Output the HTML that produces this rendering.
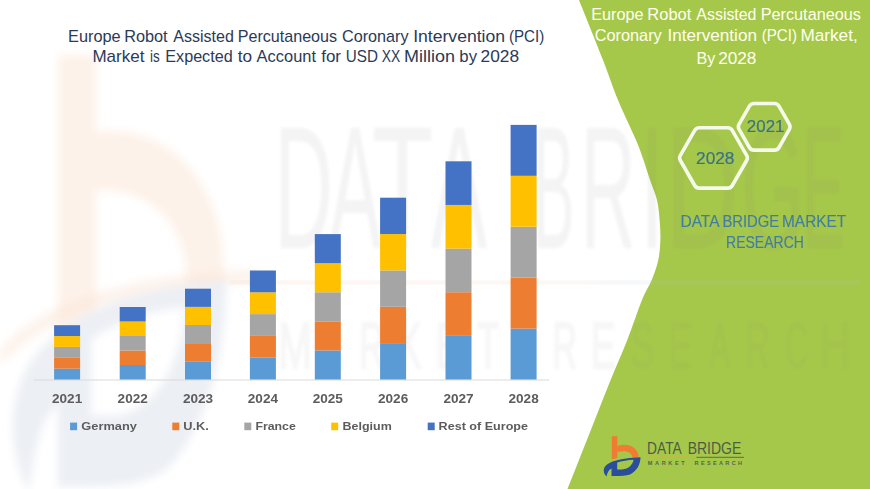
<!DOCTYPE html>
<html><head><meta charset="utf-8"><style>
html,body{margin:0;padding:0;background:#fff;}
body{width:870px;height:489px;overflow:hidden;position:relative;font-family:"Liberation Sans",sans-serif;}
svg{position:absolute;left:0;top:0;}
</style></head><body>
<svg width="870" height="489" viewBox="0 0 870 489" font-family="Liberation Sans, sans-serif">
<rect width="870" height="489" fill="#fff"/>
<path d="M579,0 C583.00,10.00 596.50,43.33 603,60 C609.50,76.67 612.50,86.67 618,100 C623.50,113.33 631.75,130.00 636,140 C640.25,150.00 641.17,153.33 643.5,160 C645.83,166.67 647.75,173.33 650,180 C652.25,186.67 655.40,193.33 657,200 C658.60,206.67 659.03,213.33 659.6,220 C660.17,226.67 660.62,233.33 660.4,240 C660.18,246.67 659.75,253.33 658.3,260 C656.85,266.67 654.42,273.33 651.7,280 C648.98,286.67 646.07,290.00 642,300 C637.93,310.00 632.53,326.67 627.3,340 C622.07,353.33 616.02,366.67 610.6,380 C605.18,393.33 600.07,406.67 594.8,420 C589.53,433.33 583.55,448.50 579,460 C574.45,471.50 569.42,484.17 567.5,489 L870,489 L870,0 Z" fill="#A6C84A"/>
<defs><filter id="bl" x="-10%" y="-10%" width="120%" height="120%"><feGaussianBlur stdDeviation="1.5"/></filter>
<filter id="bl2" x="-10%" y="-10%" width="120%" height="120%"><feGaussianBlur stdDeviation="4"/></filter></defs>
<g filter="url(#bl2)">
<path d="M58,55 L96,55 L96,132 C170,122 224,185 224,268 L222,300 L186,300 L186,275 C186,225 150,188 96,190 L96,320 L58,335 Z" fill="#FCE9DA" opacity="0.6"/>
<path d="M0,350 C40,300 140,272 260,270 L262,282 C150,285 60,305 0,365 Z" fill="#FBE3D3" opacity="0.45"/>
<g transform="translate(-3488.7,-4749.2) scale(5.8,11)"><path fill-rule="evenodd" fill="#ECEFF4" d="M606.5,476.5 C603,473 602.5,468 607,464.5 C613,460 625,458 640.5,457.2 C640.5,464 637,471 630,474.5 C625,476.2 618,476 611.5,476 L611.5,468.5 C609,469.5 607.5,472 606.5,476.5 Z M617.2,462.6 C622,460.9 628,459.9 633.6,459.7 C632.6,464.5 629,468.8 622,469.5 L617.2,469.5 Z"/></g>

</g>
<g filter="url(#bl)" fill="#7a7a7a" opacity="0.085" font-size="174">
<text transform="translate(274.34,0) scale(0.4668,1)" x="0" y="248">D</text>
<text transform="translate(328.84,0) scale(0.4514,1)" x="0" y="248">A</text>
<text transform="translate(371.78,0) scale(0.5798,1)" x="0" y="248">T</text>
<text transform="translate(430.83,0) scale(0.4862,1)" x="0" y="248">A</text>
<text transform="translate(532.90,0) scale(0.3572,1)" x="0" y="248">B</text>
<text transform="translate(580.77,0) scale(0.4369,1)" x="0" y="248">R</text>
<text transform="translate(640.09,0) scale(0.4944,1)" x="0" y="248">I</text>
<text transform="translate(665.68,0) scale(0.5835,1)" x="0" y="248">D</text>
<text transform="translate(740.94,0) scale(0.4672,1)" x="0" y="248">G</text>
<text transform="translate(801.70,0) scale(0.3718,1)" x="0" y="248">E</text>
</g>
<g filter="url(#bl)" fill="#7a7a7a" opacity="0.06" font-size="64.5" stroke="#7a7a7a" stroke-width="2.5">
<text transform="translate(278.19,0) scale(0.6267,1)" x="0" y="368">M</text>
<text transform="translate(323.54,0) scale(0.4684,1)" x="0" y="368">A</text>
<text transform="translate(359.43,0) scale(0.5238,1)" x="0" y="368">R</text>
<text transform="translate(397.93,0) scale(0.5421,1)" x="0" y="368">K</text>
<text transform="translate(436.37,0) scale(0.5732,1)" x="0" y="368">E</text>
<text transform="translate(477.22,0) scale(0.5488,1)" x="0" y="368">T</text>
<text transform="translate(552.43,0) scale(0.5238,1)" x="0" y="368">R</text>
<text transform="translate(590.77,0) scale(0.5732,1)" x="0" y="368">E</text>
<text transform="translate(630.80,0) scale(0.5402,1)" x="0" y="368">S</text>
<text transform="translate(667.97,0) scale(0.5732,1)" x="0" y="368">E</text>
<text transform="translate(709.54,0) scale(0.4684,1)" x="0" y="368">A</text>
<text transform="translate(745.43,0) scale(0.5238,1)" x="0" y="368">R</text>
<text transform="translate(785.19,0) scale(0.4906,1)" x="0" y="368">C</text>
<text transform="translate(819.87,0) scale(0.6668,1)" x="0" y="368">H</text>
</g>
<linearGradient id="lg1" x1="0" x2="1" y1="0" y2="0"><stop offset="0" stop-color="#F2B894"/><stop offset="0.55" stop-color="#F0C8B0"/><stop offset="0.62" stop-color="#B8C4D8"/><stop offset="1" stop-color="#B8C4D8"/></linearGradient>
<rect x="230" y="280.5" width="630" height="4" fill="url(#lg1)" opacity="0.16" filter="url(#bl)"/>

<line x1="34" y1="380" x2="549" y2="380" stroke="#D9D9D9" stroke-width="1"/>
<rect x="54.1" y="368.64" width="26" height="10.86" fill="#5B9BD5"/>
<rect x="54.1" y="357.78" width="26" height="10.86" fill="#ED7D31"/>
<rect x="54.1" y="346.92" width="26" height="10.86" fill="#A5A5A5"/>
<rect x="54.1" y="336.06" width="26" height="10.86" fill="#FFC000"/>
<rect x="54.1" y="325.20" width="26" height="10.86" fill="#4472C4"/>
<rect x="119.7" y="365.00" width="26" height="14.50" fill="#5B9BD5"/>
<rect x="119.7" y="350.50" width="26" height="14.50" fill="#ED7D31"/>
<rect x="119.7" y="336.00" width="26" height="14.50" fill="#A5A5A5"/>
<rect x="119.7" y="321.50" width="26" height="14.50" fill="#FFC000"/>
<rect x="119.7" y="307.00" width="26" height="14.50" fill="#4472C4"/>
<rect x="185.0" y="361.34" width="26" height="18.16" fill="#5B9BD5"/>
<rect x="185.0" y="343.18" width="26" height="18.16" fill="#ED7D31"/>
<rect x="185.0" y="325.02" width="26" height="18.16" fill="#A5A5A5"/>
<rect x="185.0" y="306.86" width="26" height="18.16" fill="#FFC000"/>
<rect x="185.0" y="288.70" width="26" height="18.16" fill="#4472C4"/>
<rect x="249.9" y="357.70" width="26" height="21.80" fill="#5B9BD5"/>
<rect x="249.9" y="335.90" width="26" height="21.80" fill="#ED7D31"/>
<rect x="249.9" y="314.10" width="26" height="21.80" fill="#A5A5A5"/>
<rect x="249.9" y="292.30" width="26" height="21.80" fill="#FFC000"/>
<rect x="249.9" y="270.50" width="26" height="21.80" fill="#4472C4"/>
<rect x="314.8" y="350.42" width="26" height="29.08" fill="#5B9BD5"/>
<rect x="314.8" y="321.34" width="26" height="29.08" fill="#ED7D31"/>
<rect x="314.8" y="292.26" width="26" height="29.08" fill="#A5A5A5"/>
<rect x="314.8" y="263.18" width="26" height="29.08" fill="#FFC000"/>
<rect x="314.8" y="234.10" width="26" height="29.08" fill="#4472C4"/>
<rect x="380.1" y="343.14" width="26" height="36.36" fill="#5B9BD5"/>
<rect x="380.1" y="306.78" width="26" height="36.36" fill="#ED7D31"/>
<rect x="380.1" y="270.42" width="26" height="36.36" fill="#A5A5A5"/>
<rect x="380.1" y="234.06" width="26" height="36.36" fill="#FFC000"/>
<rect x="380.1" y="197.70" width="26" height="36.36" fill="#4472C4"/>
<rect x="445.5" y="335.86" width="26" height="43.64" fill="#5B9BD5"/>
<rect x="445.5" y="292.22" width="26" height="43.64" fill="#ED7D31"/>
<rect x="445.5" y="248.58" width="26" height="43.64" fill="#A5A5A5"/>
<rect x="445.5" y="204.94" width="26" height="43.64" fill="#FFC000"/>
<rect x="445.5" y="161.30" width="26" height="43.64" fill="#4472C4"/>
<rect x="510.6" y="328.58" width="26" height="50.92" fill="#5B9BD5"/>
<rect x="510.6" y="277.66" width="26" height="50.92" fill="#ED7D31"/>
<rect x="510.6" y="226.74" width="26" height="50.92" fill="#A5A5A5"/>
<rect x="510.6" y="175.82" width="26" height="50.92" fill="#FFC000"/>
<rect x="510.6" y="124.90" width="26" height="50.92" fill="#4472C4"/>
<g font-weight="bold" font-size="13.6" fill="#5C5C5C">
<text x="67.1" y="403.4" text-anchor="middle" textLength="30.2" lengthAdjust="spacingAndGlyphs">2021</text>
<text x="132.7" y="403.4" text-anchor="middle" textLength="30.2" lengthAdjust="spacingAndGlyphs">2022</text>
<text x="198.0" y="403.4" text-anchor="middle" textLength="30.2" lengthAdjust="spacingAndGlyphs">2023</text>
<text x="262.9" y="403.4" text-anchor="middle" textLength="30.2" lengthAdjust="spacingAndGlyphs">2024</text>
<text x="327.8" y="403.4" text-anchor="middle" textLength="30.2" lengthAdjust="spacingAndGlyphs">2025</text>
<text x="393.1" y="403.4" text-anchor="middle" textLength="30.2" lengthAdjust="spacingAndGlyphs">2026</text>
<text x="458.5" y="403.4" text-anchor="middle" textLength="30.2" lengthAdjust="spacingAndGlyphs">2027</text>
<text x="523.6" y="403.4" text-anchor="middle" textLength="30.2" lengthAdjust="spacingAndGlyphs">2028</text>
</g>
<g font-weight="bold" font-size="11.8" fill="#5C5C5C">
<rect x="70.1" y="422.6" width="7" height="7.6" fill="#5B9BD5"/>
<text x="81.3" y="430" textLength="55.6" lengthAdjust="spacingAndGlyphs">Germany</text>
<rect x="172.3" y="422.6" width="7" height="7.6" fill="#ED7D31"/>
<text x="183.2" y="430" textLength="25.6" lengthAdjust="spacingAndGlyphs">U.K.</text>
<rect x="244.3" y="422.6" width="7" height="7.6" fill="#A5A5A5"/>
<text x="255.4" y="430" textLength="40.4" lengthAdjust="spacingAndGlyphs">France</text>
<rect x="331.2" y="422.6" width="7" height="7.6" fill="#FFC000"/>
<text x="342.6" y="430" textLength="49.2" lengthAdjust="spacingAndGlyphs">Belgium</text>
<rect x="427.7" y="422.6" width="7" height="7.6" fill="#4472C4"/>
<text x="438.6" y="430" textLength="89.4" lengthAdjust="spacingAndGlyphs">Rest of Europe</text>
</g>
<g font-size="16" fill="#2B3A57">
<text transform="translate(68.06,0) scale(1.0208,1)" x="0" y="41.6">Europe</text>
<text transform="translate(124.16,0) scale(1.0199,1)" x="0" y="41.6">Robot</text>
<text transform="translate(173.27,0) scale(1.0015,1)" x="0" y="41.6">Assisted</text>
<text transform="translate(237.68,0) scale(1.0078,1)" x="0" y="41.6">Percutaneous</text>
<text transform="translate(341.97,0) scale(1.0129,1)" x="0" y="41.6">Coronary</text>
<text transform="translate(413.18,0) scale(1.1000,1)" x="0" y="41.6">Intervention</text>
<text transform="translate(508.96,0) scale(0.9478,1)" x="0" y="41.6">(PCI)</text>
<text transform="translate(92.40,0) scale(1.0659,1)" x="0" y="62.5">Market</text>
<text transform="translate(150.10,0) scale(0.8380,1)" x="0" y="62.5">is</text>
<text transform="translate(165.27,0) scale(1.0114,1)" x="0" y="62.5">Expected</text>
<text transform="translate(237.64,0) scale(1.0779,1)" x="0" y="62.5">to</text>
<text transform="translate(256.57,0) scale(1.0284,1)" x="0" y="62.5">Account</text>
<text transform="translate(321.16,0) scale(1.0618,1)" x="0" y="62.5">for</text>
<text transform="translate(345.73,0) scale(0.9535,1)" x="0" y="62.5">USD</text>
<text transform="translate(381.78,0) scale(0.8672,1)" x="0" y="62.5">XX</text>
<text transform="translate(404.03,0) scale(1.1235,1)" x="0" y="62.5">Million</text>
<text transform="translate(459.31,0) scale(1.0490,1)" x="0" y="62.5">by</text>
<text transform="translate(480.53,0) scale(1.0822,1)" x="0" y="62.5">2028</text>
</g>
<g font-size="16.3" fill="#FFFFF0">
<text transform="translate(591.27,0) scale(0.9961,1)" x="0" y="20.2">Europe</text>
<text transform="translate(647.35,0) scale(1.0106,1)" x="0" y="20.2">Robot</text>
<text transform="translate(696.37,0) scale(0.9765,1)" x="0" y="20.2">Assisted</text>
<text transform="translate(760.67,0) scale(0.9983,1)" x="0" y="20.2">Percutaneous</text>
<text transform="translate(594.67,0) scale(1.0003,1)" x="0" y="41.5">Coronary</text>
<text transform="translate(667.42,0) scale(1.0520,1)" x="0" y="41.5">Intervention</text>
<text transform="translate(761.66,0) scale(0.9304,1)" x="0" y="41.5">(PCI)</text>
<text transform="translate(800.39,0) scale(1.0555,1)" x="0" y="41.5">Market,</text>
<text transform="translate(696.47,0) scale(0.9913,1)" x="0" y="63.8">By</text>
<text transform="translate(718.14,0) scale(1.0566,1)" x="0" y="63.8">2028</text>
</g>
<g fill="none" stroke="#F6FAEA" stroke-width="3.6" stroke-linejoin="round">
<path d="M739.09,129.41 Q737.60,126.80 739.09,124.19 L749.41,106.11 Q750.90,103.50 753.90,103.50 L774.50,103.50 Q777.50,103.50 778.99,106.11 L789.31,124.19 Q790.80,126.80 789.31,129.41 L778.99,147.49 Q777.50,150.10 774.50,150.10 L753.90,150.10 Q750.90,150.10 749.41,147.49 Z"/>
<path d="M680.39,160.50 Q678.90,157.90 680.39,155.30 L694.71,130.30 Q696.20,127.70 699.20,127.70 L727.80,127.70 Q730.80,127.70 732.29,130.30 L746.61,155.30 Q748.10,157.90 746.61,160.50 L732.29,185.50 Q730.80,188.10 727.80,188.10 L699.20,188.10 Q696.20,188.10 694.71,185.50 Z"/>
</g>
<g font-size="16.5" fill="#3B7382" stroke="#3B7382" stroke-width="0.2">
<text transform="translate(746.86,0) scale(1.0239,1)" x="0" y="132.4">2021</text>
<text transform="translate(696.04,0) scale(1.0466,1)" x="0" y="163.6">2028</text>
</g>
<g font-size="15.8" fill="#417DA2" stroke="#417DA2" stroke-width="0.15">
<text transform="translate(680.43,0) scale(0.9825,1)" x="0" y="226.8">DATA</text>
<text transform="translate(722.38,0) scale(0.9385,1)" x="0" y="226.8">BRIDGE</text>
<text transform="translate(782.04,0) scale(0.9754,1)" x="0" y="226.8">MARKET</text>
<text transform="translate(726.05,0) scale(0.8871,1)" x="0" y="248.1">RESEARCH</text>
</g>
<!-- logo -->
<path d="M611.8,436.3 L617.4,436.3 L617.4,458 L611.8,459.5 Z" fill="#F07B32"/>
<path d="M617.4,446 C627,442.5 637.5,446 638.8,456.8 L632.5,457.4 C631.5,452 626,450.2 617.4,452 Z" fill="#F07B32"/>
<line x1="648.3" y1="456.8" x2="690.3" y2="456.8" stroke="#D8B040" stroke-width="0.9" opacity="0.7"/>
<line x1="696.4" y1="457.3" x2="743.9" y2="457.3" stroke="#5C6B50" stroke-width="1"/>
<path fill-rule="evenodd" fill="#2B4E9B" d="M606.5,476.5 C603,473 602.5,468 607,464.5 C613,460 625,458 640.5,457.2 C640.5,464 637,471 630,474.5 C625,476.2 618,476 611.5,476 L611.5,468.5 C609,469.5 607.5,472 606.5,476.5 Z M617.2,462.6 C622,460.9 628,459.9 633.6,459.7 C632.6,464.5 629,468.8 622,469.5 L617.2,469.5 Z"/>
<g font-size="16.7" fill="#4E5C45">
<text transform="translate(647.07,0) scale(0.8238,1)" x="0" y="454.5">DATA</text>
<text transform="translate(687.65,0) scale(0.8395,1)" x="0" y="454.5">BRIDGE</text>
</g>
<g font-size="5.6" font-weight="bold" fill="#56644C">
<text x="647.7" y="465.3" textLength="37" lengthAdjust="spacing">MARKET</text>
<text x="694.6" y="465.3" textLength="47.4" lengthAdjust="spacing">RESEARCH</text>
</g>
</svg>
</body></html>
